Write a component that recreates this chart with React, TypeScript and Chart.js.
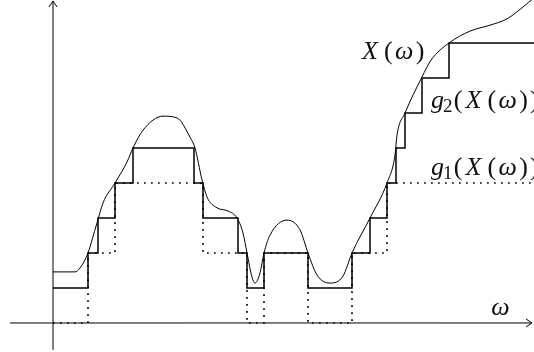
import React, { useEffect, useRef } from "react";
import { Chart, registerables } from "chart.js";

Chart.register(...registerables);

// ω positions (1 unit = 10 px) and quantisation levels
const curveW = [0, 2.2, 2.7, 3.5, 3.9, 4.4, 5.0, 6.2, 7.4, 8.0, 9.0, 11.0, 12.4, 13.7, 14.2, 14.9, 15.4, 16.4, 17.5, 18.4, 19.0, 19.4, 19.9, 20.2, 20.7, 21.1, 21.7, 23.4, 24.7, 25.5, 26.4, 27.7, 29.0, 29.9, 31.7, 33.4, 34.2, 34.4, 35.2, 36.9, 37.8, 39.6, 41.7, 43.7, 45.4, 47.0, 48.1];
const curveX = [1.46, 1.46, 1.57, 2.0, 2.37, 2.86, 3.43, 4.0, 4.6, 5.0, 5.51, 5.91, 5.86, 5.31, 5.0, 4.09, 3.6, 3.29, 3.2, 3.0, 2.57, 2.0, 1.31, 1.14, 1.43, 2.0, 2.51, 2.94, 2.66, 2.0, 1.37, 1.14, 1.34, 2.0, 3.0, 4.0, 4.8, 5.37, 6.0, 7.03, 7.51, 8.0, 8.34, 8.51, 8.69, 9.03, 9.29];

const g2W = [0, 3.5, 4.5, 6.2, 8.0, 14.1, 15.0, 18.5, 19.4, 21.1, 25.5, 29.9, 31.7, 33.4, 34.3, 35.2, 36.9, 39.6, 48.1];
const g2L = [1, 2, 3, 4, 5, 4, 3, 2, 1, 2, 1, 2, 3, 4, 5, 6, 7, 8, 8];

const g1W = [0, 3.5, 6.2, 15.0, 19.4, 21.1, 25.5, 29.9, 33.4, 48.1];
const g1L = [0, 2, 4, 2, 0, 2, 0, 2, 4, 4];

const labelX = "X(ω)";
const labelG2 = "g2(X(ω))";
const labelG1 = "g1(X(ω))";
const labelW = "ω";

const FONT = '"Liberation Serif", "DejaVu Serif", serif';
const FS = 26;
// TeX-like advance widths (in em) so the labels take the width of the original typesetting
const ADV: Record<string, number> = { X: 0.88, "(": 0.42, ")": 0.42, "ω": 0.8, g: 0.43, "1": 0.36, "2": 0.36 };

type Seg = { t: string; it: boolean; sub?: boolean };

function segsFor(label: string): Seg[] {
  const out: Seg[] = [];
  for (let i = 0; i < label.length; i++) {
    const c = label[i];
    if (c === "1" || c === "2") out.push({ t: c, it: false, sub: true });
    else if (c === "(" || c === ")") out.push({ t: c, it: false });
    else out.push({ t: c, it: true });
  }
  return out;
}

function drawMath(ctx: CanvasRenderingContext2D, label: string, x: number, y: number) {
  let cx = x;
  for (const s of segsFor(label)) {
    const size = s.sub ? Math.round(FS * 0.72) : FS;
    ctx.font = `${s.it ? "italic " : ""}${size}px ${FONT}`;
    const m = ctx.measureText(s.t).width;
    const adv = (ADV[s.t] ?? m / FS) * FS;
    const off = s.t === "X" ? (adv - m) * 0.3 : (adv - m) / 2;
    ctx.fillText(s.t, cx + off, y + (s.sub ? FS * 0.16 : 0));
    cx += adv;
  }
}

export default function App() {
  const ref = useRef<HTMLCanvasElement | null>(null);

  useEffect(() => {
    document.body.style.margin = "0";
    const canvas = ref.current!;
    const axesPlugin = {
      id: "mathAxes",
      beforeDatasetsDraw(chart: any) {
        const { ctx, scales } = chart;
        const xs = scales.x, ys = scales.y;
        const x0 = xs.getPixelForValue(0);
        const y0 = ys.getPixelForValue(0);
        const xStart = xs.getPixelForValue(-4.3);
        const xEnd = xs.getPixelForValue(47.9);
        const yBottom = ys.getPixelForValue(-0.77);
        const yTop = ys.getPixelForValue(9.2);
        ctx.save();
        ctx.strokeStyle = "#000";
        ctx.lineWidth = 1;
        ctx.beginPath();
        ctx.moveTo(xStart, y0);
        ctx.lineTo(xEnd, y0);
        ctx.moveTo(xEnd - 6, y0 - 4);
        ctx.lineTo(xEnd, y0);
        ctx.lineTo(xEnd - 6, y0 + 4);
        ctx.moveTo(x0, yBottom);
        ctx.lineTo(x0, yTop);
        ctx.moveTo(x0 - 4, yTop + 6);
        ctx.lineTo(x0, yTop);
        ctx.lineTo(x0 + 4, yTop + 6);
        ctx.stroke();
        ctx.restore();
      },
      afterDatasetsDraw(chart: any) {
        const { ctx, scales } = chart;
        const xs = scales.x, ys = scales.y;
        ctx.save();
        ctx.fillStyle = "#111";
        ctx.textBaseline = "alphabetic";
        drawMath(ctx, labelX, xs.getPixelForValue(30.7), ys.getPixelForValue(7.54));
        drawMath(ctx, labelG2, xs.getPixelForValue(37.9), ys.getPixelForValue(6.14));
        drawMath(ctx, labelG1, xs.getPixelForValue(37.9), ys.getPixelForValue(4.23));
        drawMath(ctx, labelW, xs.getPixelForValue(43.7), ys.getPixelForValue(0.23));
        ctx.restore();
      },
    };

    const chart = new Chart(canvas, {
      type: "line",
      data: {
        datasets: [
          {
            data: g1W.map((w, i) => ({ x: w, y: g1L[i] })),
            stepped: true,
            borderColor: "#000",
            borderWidth: 1.7,
            borderDash: [1.7, 5.3],
            pointRadius: 0,
            fill: false,
          },
          {
            data: g2W.map((w, i) => ({ x: w, y: g2L[i] })),
            stepped: true,
            borderColor: "#000",
            borderWidth: 1.5,
            pointRadius: 0,
            fill: false,
          },
          {
            data: curveW.map((w, i) => ({ x: w, y: curveX[i] })),
            borderColor: "#000",
            borderWidth: 1,
            pointRadius: 0,
            cubicInterpolationMode: "monotone",
            fill: false,
          },
        ],
      },
      options: {
        responsive: false,
        maintainAspectRatio: false,
        animation: false,
        layout: { padding: 0 },
        plugins: { legend: { display: false }, tooltip: { enabled: false } },
        events: [],
        scales: {
          x: { type: "linear", min: -5.3, max: 48.1, display: false },
          y: { type: "linear", min: -0.829, max: 9.229, display: false },
        },
      },
      plugins: [axesPlugin],
    });
    return () => chart.destroy();
  }, []);

  return (
    <div style={{ position: "absolute", left: 0, top: 0, width: 534, height: 352, background: "#fff" }}>
      <canvas ref={ref} width={534} height={352} style={{ display: "block" }} />
    </div>
  );
}
